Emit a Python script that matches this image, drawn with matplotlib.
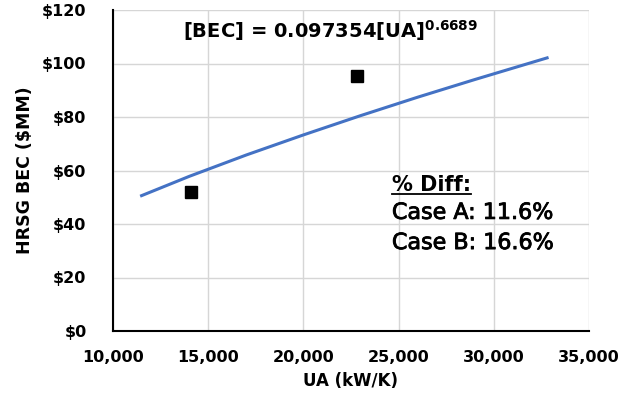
import matplotlib
matplotlib.use('Agg')
import matplotlib.pyplot as plt
import matplotlib.patheffects as pe
from matplotlib.ticker import FuncFormatter

# fit curve
ua_fit = [11500, 14000, 17000, 20000, 23000, 26000, 29000, 32800]
bec_fit = [50.6, 57.8, 65.8, 73.3, 80.5, 87.4, 94.0, 102.1]

# case points
ua_cases = [14100, 22800]
bec_cases = [51.8, 95.2]

plt.rcParams['font.family'] = ['DejaVu Sans']
plt.rcParams['mathtext.fontset'] = 'dejavusans'
plt.rcParams['mathtext.default'] = 'bf'

fig = plt.figure(figsize=(6.23, 4.0), dpi=100)
ax = fig.add_axes([0.1814, 0.1725, 0.764, 0.8025])

ax.plot(ua_fit, bec_fit, color='#4472C4', linewidth=2.2, zorder=3)
ax.plot(ua_cases, bec_cases, 's', color='black', markersize=8.5, zorder=4)

ax.set_xlim(10000, 35000)
ax.set_ylim(0, 120)
ax.set_xticks(range(10000, 35001, 5000))
ax.set_yticks(range(0, 121, 20))
ax.xaxis.set_major_formatter(FuncFormatter(lambda v, p: f'{int(v):,}'))
ax.yaxis.set_major_formatter(FuncFormatter(lambda v, p: f'${int(v)}'))
ax.tick_params(length=0, labelsize=11.5)
ax.tick_params(axis='x', pad=14)
ax.tick_params(axis='y', pad=19)
for lab in ax.get_xticklabels() + ax.get_yticklabels():
    lab.set_fontweight('bold')

ax.grid(True, color='#D6D6D6', linewidth=1.0, zorder=0)
ax.set_axisbelow(True)
for s in ['top', 'right']:
    ax.spines[s].set_visible(False)
for s in ['left', 'bottom']:
    ax.spines[s].set_color('black')
    ax.spines[s].set_linewidth(1.5)

ax.set_xlabel('UA (kW/K)', fontsize=12, fontweight='bold', labelpad=5)
ax.set_ylabel('HRSG BEC ($MM)', fontsize=12.5, fontweight='bold', labelpad=6)

ax.text(0.147, 0.935, r'[BEC] = 0.097354[UA]$^{0.6689}$', transform=ax.transAxes,
        ha='left', va='center', fontsize=14, fontweight='bold')

heavier = [pe.withStroke(linewidth=0.6, foreground='black')]
t = ax.text(0.586, 0.455, '% Diff:', transform=ax.transAxes,
            ha='left', va='center', fontsize=15, fontweight='bold')
ax.text(0.586, 0.368, 'Case A: 11.6%', transform=ax.transAxes,
        ha='left', va='center', fontsize=16, path_effects=heavier)
ax.text(0.586, 0.274, 'Case B: 16.6%', transform=ax.transAxes,
        ha='left', va='center', fontsize=16, path_effects=heavier)

# underline for the "% Diff:" heading
fig.canvas.draw()
bb = t.get_window_extent().transformed(ax.transAxes.inverted())
ax.plot([bb.x0, bb.x1], [bb.y0 + 0.003, bb.y0 + 0.003], color='black',
        linewidth=1.3, transform=ax.transAxes, clip_on=False)

fig.savefig('out.png', dpi=100)
